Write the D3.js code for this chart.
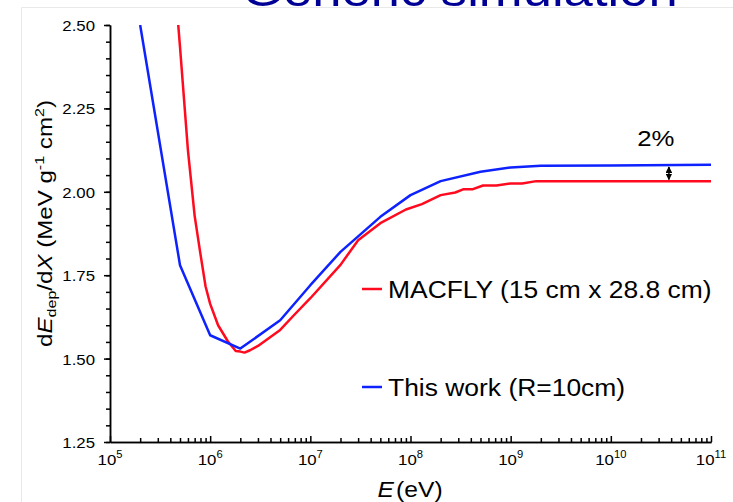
<!DOCTYPE html>
<html>
<head>
<meta charset="utf-8">
<script src="https://cdn.jsdelivr.net/npm/d3@7"></script>
<style>
  html, body { margin: 0; padding: 0; background: #fff; }
  svg { display: block; font-family: "Liberation Sans", Arial, Helvetica, sans-serif; }
</style>
</head>
<body>
<svg id="chart" width="733" height="502"></svg>
<script>
// Deposited energy loss versus primary energy for two detector simulations.
const titleText = "Generic simulation";

// MACFLY (15 cm x 28.8 cm)
const macflyEnergy = [4.8e5, 5e5, 6e5, 7e5, 8e5, 9e5, 1e6, 1.2e6, 1.5e6, 1.8e6, 2e6, 2.2e6, 2.5e6, 3e6, 4e6, 5e6, 7e6,
  1e7, 2e7, 3e7, 5e7, 9e7, 1.3e8, 2e8, 2.8e8, 3.4e8, 4.2e8, 5.3e8, 7.2e8, 1e9, 1.3e9, 1.8e9, 1e10, 1e11];
const macflyDEdX = [2.50, 2.434, 2.124, 1.928, 1.813, 1.716, 1.664, 1.600, 1.552, 1.523, 1.521, 1.518, 1.525, 1.538, 1.565, 1.586, 1.633,
  1.681, 1.781, 1.855, 1.906, 1.947, 1.963, 1.990, 1.998, 2.008, 2.008, 2.019, 2.019, 2.025, 2.025, 2.032, 2.032, 2.032];

// This work (R = 10 cm)
const thisWorkEnergy = [2e5, 5e5, 1e6, 2e6, 5e6, 1e7, 2e7, 5e7, 1e8, 2e8, 5e8, 1e9, 2e9, 1e10, 1e11];
const thisWorkDEdX = [2.50, 1.78, 1.57, 1.53, 1.615, 1.72, 1.82, 1.925, 1.99, 2.032, 2.06, 2.073, 2.078, 2.079, 2.081];

const seriesNames = ["MACFLY (15 cm x 28.8 cm)", "This work (R=10cm)"];
const seriesColors = ["#ff0a1e", "#0d22ff"];

const yTickValues = [1.25, 1.50, 1.75, 2.00, 2.25, 2.50];
const xTickExponents = [5, 6, 7, 8, 9, 10, 11];

// Relative offset between the two plateaus, marked at this energy
const gapLabel = "2%";
const gapEnergy = 3.8e10;

const svg = d3.select("#chart");
const STRETCH = 1.12;   // horizontal widening applied to label text

const x = d3.scaleLog().domain([1e5, 1e11]).range([110, 711]);
const y = d3.scaleLinear().domain([1.25, 2.5]).range([442, 25]);

// light page frame
svg.append("line").attr("x1", 21.5).attr("x2", 21.5).attr("y1", 7.5).attr("y2", 502)
  .attr("stroke", "#e9e9e9").attr("stroke-width", 1);
svg.append("line").attr("x1", 21.5).attr("x2", 733).attr("y1", 7.5).attr("y2", 7.5)
  .attr("stroke", "#e9e9e9").attr("stroke-width", 1);

// heading, partly above the visible page
svg.append("text")
  .attr("transform", `translate(242,6) scale(${STRETCH},1)`)
  .attr("font-size", 47).attr("fill", "#000096")
  .text(titleText);

// clip region for the curves
svg.append("defs").append("clipPath").attr("id", "plot-clip")
  .append("rect").attr("x", 110).attr("y", 25).attr("width", 601).attr("height", 417);

// --- Y axis ---
const yMinor = d3.range(1.25, 2.5001, 0.05).map(v => +v.toFixed(2));
svg.append("g").attr("transform", "translate(110,0)")
  .call(d3.axisLeft(y).tickValues(yMinor).tickSize(4).tickSizeOuter(0).tickFormat(""));
const yAxisMajor = svg.append("g").attr("transform", "translate(110,0)")
  .call(d3.axisLeft(y).tickValues(yTickValues).tickSize(6).tickSizeOuter(0).tickPadding(9)
    .tickFormat(d3.format(".2f")));
yAxisMajor.selectAll("text")
  .attr("font-size", 15).attr("fill", "#000")
  .attr("font-family", "Liberation Sans, Arial, sans-serif")
  .attr("x", null).attr("dy", null)
  .attr("transform", `translate(-15,5.5) scale(${STRETCH},1)`);

// --- X axis (ticks point into the plot) ---
const xMajor = xTickExponents.map(e => Math.pow(10, e));
const xMinor = [];
xTickExponents.slice(0, -1).forEach(e => {
  for (let m = 2; m <= 9; m++) xMinor.push(m * Math.pow(10, e));
});
svg.append("g").attr("transform", "translate(0,442)")
  .call(d3.axisBottom(x).tickValues(xMinor).tickSize(-4).tickSizeOuter(0).tickFormat(""));
svg.append("g").attr("transform", "translate(0,442)")
  .call(d3.axisBottom(x).tickValues(xMajor).tickSize(-6).tickSizeOuter(0).tickFormat(""));

svg.selectAll(".domain, .tick line")
  .attr("stroke", "#000").attr("stroke-width", 1.5);

// decade labels 10^n
const xLabels = svg.append("g");
xTickExponents.forEach(e => {
  const t = xLabels.append("text")
    .attr("transform", `translate(${x(Math.pow(10, e))},465) scale(${STRETCH},1)`)
    .attr("text-anchor", "middle").attr("font-size", 15).attr("fill", "#000");
  t.append("tspan").text("10");
  t.append("tspan").attr("font-size", 10).attr("dy", -7).text(e);
});

// x-axis title
const xTitle = svg.append("text")
  .attr("transform", `translate(410,497) scale(${STRETCH},1)`)
  .attr("text-anchor", "middle").attr("font-size", 22).attr("fill", "#000");
xTitle.append("tspan").attr("font-style", "italic").text("E");
xTitle.append("tspan").attr("dx", 2).text("(eV)");

// y-axis title, fitted along its length
const yTitle = svg.append("text")
  .attr("text-anchor", "middle").attr("font-size", 19.5).attr("fill", "#000");
yTitle.append("tspan").text("d");
yTitle.append("tspan").attr("font-style", "italic").text("E");
yTitle.append("tspan").attr("font-size", 13).attr("dy", 4).text("dep");
yTitle.append("tspan").attr("dy", -4).text("/d");
yTitle.append("tspan").attr("font-style", "italic").text("X");
yTitle.append("tspan").text(" (MeV g");
yTitle.append("tspan").attr("font-size", 13).attr("dy", -8).text("-1");
yTitle.append("tspan").attr("dy", 8).text(" cm");
yTitle.append("tspan").attr("font-size", 13).attr("dy", -8).text("2");
yTitle.append("tspan").attr("dy", 8).text(")");
const yTitleLen = yTitle.node().getComputedTextLength();
yTitle.attr("transform", `translate(52,223.5) rotate(-90) scale(${247 / yTitleLen},1)`);

// --- curves ---
const line = d3.line().x(d => x(d[0])).y(d => y(d[1]));
const macfly = macflyEnergy.map((e, i) => [e, macflyDEdX[i]]);
const thisWork = thisWorkEnergy.map((e, i) => [e, thisWorkDEdX[i]]);

const curves = svg.append("g").attr("clip-path", "url(#plot-clip)");
curves.append("path").datum(macfly).attr("d", line)
  .attr("fill", "none").attr("stroke", seriesColors[0]).attr("stroke-width", 2.5)
  .attr("stroke-linejoin", "round");
curves.append("path").datum(thisWork).attr("d", line)
  .attr("fill", "none").attr("stroke", seriesColors[1]).attr("stroke-width", 2.5)
  .attr("stroke-linejoin", "round");

// --- legend ---
const legendRows = [289, 387];
seriesNames.forEach((name, i) => {
  svg.append("line")
    .attr("x1", 362).attr("x2", 382).attr("y1", legendRows[i]).attr("y2", legendRows[i])
    .attr("stroke", seriesColors[i]).attr("stroke-width", 2.5);
  svg.append("text")
    .attr("transform", `translate(388,${legendRows[i] + 9}) scale(${STRETCH},1)`)
    .attr("font-size", 23.6).attr("fill", "#000")
    .text(name);
});

// --- plateau gap marker ---
const defs = svg.select("defs");
defs.append("marker").attr("id", "tip").attr("viewBox", "0 0 10 10")
  .attr("refX", 9).attr("refY", 5).attr("markerWidth", 4.5).attr("markerHeight", 4.5)
  .attr("orient", "auto-start-reverse").attr("markerUnits", "strokeWidth")
  .append("path").attr("d", "M0,0 L10,5 L0,10 z").attr("fill", "#000");

const gapTop = y(thisWorkDEdX[thisWorkDEdX.length - 2]) + 1.5;
const gapBottom = y(macflyDEdX[macflyDEdX.length - 1]) - 1.5;
svg.append("line")
  .attr("x1", x(gapEnergy)).attr("x2", x(gapEnergy))
  .attr("y1", gapTop).attr("y2", gapBottom)
  .attr("stroke", "#000").attr("stroke-width", 1.5)
  .attr("marker-start", "url(#tip)").attr("marker-end", "url(#tip)");

svg.append("text")
  .attr("transform", `translate(${x(gapEnergy) - 13},146) scale(${STRETCH},1)`)
  .attr("text-anchor", "middle").attr("font-size", 23).attr("fill", "#000")
  .text(gapLabel);
</script>
</body>
</html>
